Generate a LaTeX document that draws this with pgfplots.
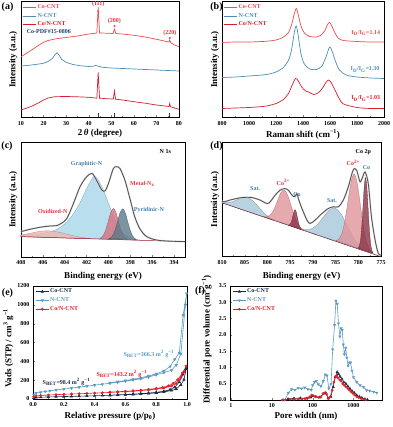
\documentclass[border=0pt]{standalone}
\usepackage{fontspec}
\setmainfont{Liberation Serif}
\usepackage{pgfplots}
\pgfplotsset{compat=1.18}

\definecolor{cored}{HTML}{F04A4A}
\definecolor{nblue}{HTML}{4F8DB5}
\definecolor{conred}{HTML}{D21F2E}
\definecolor{pdfblue}{HTML}{1F3F6B}
\definecolor{navy}{HTML}{1B2E4D}
\definecolor{eblue}{HTML}{5B9BC6}
\definecolor{ered}{HTML}{E41F26}
\definecolor{labblue}{HTML}{3F80AA}
\definecolor{labred}{HTML}{E5303B}
\definecolor{envgray}{HTML}{505050}
\definecolor{oxfill}{HTML}{F2B5B5}
\definecolor{grfill}{HTML}{A8D7EA}
\definecolor{metfill}{HTML}{D7707E}
\definecolor{pyrfill}{HTML}{5A7989}
\definecolor{satfill}{HTML}{A6C7D9}
\definecolor{cotwo}{HTML}{E0939A}
\definecolor{cozero}{HTML}{8A3447}

\tikzset{lab/.style={font=\fontsize{6}{7}\selectfont\bfseries}}

\pgfplotsset{
  panel/.style={
    scale only axis, anchor=south west, clip=false,
    axis line style={line width=0.6pt},
    tick align=inside, tick pos=left,
    major tick length=2pt, minor tick length=1.2pt,
    tick label style={font=\fontsize{6}{7}\selectfont\bfseries},
    label style={font=\fontsize{9}{10}\selectfont\bfseries},
    /pgf/number format/assume math mode=true,
    /pgf/number format/set thousands separator={},
    xlabel style={anchor=center}, ylabel style={anchor=center},
    legend cell align=left,
    legend style={draw=none, fill=none, anchor=north west,
      font=\fontsize{6}{7}\selectfont\bfseries, row sep=1.3pt,
      inner sep=0pt, nodes={inner sep=1pt}},
  },
  lineleg/.style={legend image code/.code={\draw[##1, line width=0.8pt] (0pt,0pt) -- (13pt,0pt);}},
  markleg/.style={legend image code/.code={\draw[mark repeat=2, mark phase=2, ##1] plot coordinates {(0pt,0pt) (6.5pt,0pt) (13pt,0pt)};}},
  comp/.style={fill=#1, draw=#1!75!black, line width=0.3pt, fill opacity=0.8, smooth},
}

\begin{document}
\begin{tikzpicture}
\path[use as bounding box] (0pt,0pt) rectangle (392pt,427pt);

% (a) XRD
\begin{axis}[panel, lineleg, at={(21pt,309.5pt)}, width=158pt, height=116pt,
  xmin=10, xmax=80, ymin=0, ymax=116, xtick={10,20,...,80}, minor x tick num=1, ytick=\empty,
  xlabel={2\,\textit{θ} (degree)}, ylabel={Intensity (a.u.)},
  xlabel style={at={(axis description cs:0.5,-0.138)}},
  ylabel style={at={(axis description cs:-0.05,0.5)}},
  legend style={at={(axis description cs:0.01,0.985)}}]
\addplot[cored, line width=0.7pt] coordinates {
(10,60.8)(12,63.5)(14,66.5)(16,69.5)(18,72.5)(20,75.2)(22,77)(25,78.5)(28,79.5)(30,80)(35,81.5)(40,83.5)
(43.6,84.5)(44.2,110)(44.8,84.5)(48,84.3)(50.8,84)(51.4,88.5)(52,84)(55,83.5)(60,82.2)(65,80.5)
(70,78.2)(75.5,75.5)(75.9,77.5)(76.3,75)(78,72.5)(80,70.8)};
\addlegendentry{\textcolor{cored}{Co-CNT}}
\addplot[nblue, line width=0.7pt] coordinates {
(10,51.5)(14,52.3)(18,53.5)(20,54.2)(22,56)(24,59.2)(25,62.5)(26,64.8)(27,62)(28,58.2)(30,55.2)
(33,53)(36,51.8)(40,51)(42,51.3)(43,52)(44,51.5)(46,50.2)(50,49.5)(55,49)(60,48.5)(65,48)(70,47.5)(75,47)(80,46.5)};
\addlegendentry{\textcolor{nblue}{N-CNT}}
\addplot[conred, line width=0.7pt] coordinates {
(10,7.5)(12,9)(15,11.5)(18,15)(20,17.5)(22,19.5)(25,20.8)(30,21)(35,20.7)(40,20.2)(43.6,19.3)
(44.2,45)(44.8,19.3)(48,18.8)(50.9,18.4)(51.4,26.5)(51.9,18.3)(55,17.5)(60,15.8)(65,14.3)(70,12.5)
(75.6,11)(75.9,14.2)(76.2,10.8)(78,9.5)(80,8.2)};
\addlegendentry{\textcolor{conred}{Co/N-CNT}}
\addplot[ycomb, pdfblue, line width=0.8pt, forget plot] coordinates {(44.2,4)(51.5,4)(75.9,4)};
\addplot[only marks, mark=*, mark size=0.8pt, cored, forget plot] coordinates {(44.2,106)(51.4,91.5)(75.9,79.5)};
\node[lab, text=pdfblue, anchor=west] at (axis description cs:0.015,0.74) {Co-PDF\#15-0806};
\node[lab, text=labred] at (axis cs:44.2,113.5) {(111)};
\node[lab, text=labred] at (axis cs:51.4,96) {(200)};
\node[lab, text=labred] at (axis cs:76,84.5) {(220)};
\end{axis}

% (b) Raman
\begin{axis}[panel, lineleg, at={(222pt,309.5pt)}, width=162pt, height=116pt,
  xmin=800, xmax=2000, ymin=0, ymax=116, xtick={800,1000,...,2000}, minor x tick num=1, ytick=\empty,
  xlabel={Raman shift (cm\textsuperscript{−1})}, ylabel={Intensity (a.u.)},
  xlabel style={at={(axis description cs:0.5,-0.145)}},
  ylabel style={at={(axis description cs:-0.043,0.5)}},
  legend style={at={(axis description cs:0.01,0.985)}}]
\addplot[cored, line width=0.7pt, smooth] coordinates {
(800,75)(900,75.5)(1000,75.5)(1100,76)(1150,76.5)(1200,77.5)(1250,80)(1290,84.5)(1315,92.5)(1335,103.5)
(1350,109)(1365,102.5)(1385,91.5)(1410,84.5)(1450,81)(1500,80.5)(1530,82)(1560,86.5)(1580,92.5)
(1595,95)(1610,92.5)(1630,86.5)(1660,79.5)(1700,77)(1800,76)(1900,75.5)(2000,75.5)};
\addlegendentry{\textcolor{cored}{Co-CNT}}
\addplot[nblue, line width=0.7pt, smooth] coordinates {
(800,40)(900,40.5)(1000,41.5)(1100,42.5)(1150,43.5)(1200,45.5)(1250,49.5)(1290,56.5)(1315,67.5)
(1335,84.5)(1350,91.5)(1365,81.5)(1385,63.5)(1410,53.5)(1450,48.5)(1500,48)(1540,51.5)(1570,60.5)
(1590,68.5)(1600,70.5)(1615,66.5)(1640,56.5)(1670,47.5)(1720,42.5)(1800,40.5)(1900,39.5)(2000,39)};
\addlegendentry{\textcolor{nblue}{N-CNT}}
\addplot[conred, line width=0.7pt, smooth] coordinates {
(800,9)(900,9.5)(1000,10)(1100,11)(1150,12)(1200,14)(1250,17.5)(1290,23.5)(1320,32.5)(1345,39)
(1365,36.5)(1390,30.5)(1420,26.5)(1450,25)(1480,23)(1510,24.5)(1540,28.5)(1570,35)(1590,37.5)
(1610,34.5)(1640,26.5)(1670,18.5)(1700,13.5)(1800,10)(1900,9)(2000,9)};
\addlegendentry{\textcolor{conred}{Co/N-CNT}}
\node[lab, text=cored] at (axis cs:1865,84.5) {I\textsubscript{D}/I\textsubscript{G}=1.14};
\node[lab, text=nblue] at (axis cs:1860,48) {I\textsubscript{D}/I\textsubscript{G}=1.30};
\node[lab, text=conred] at (axis cs:1865,19) {I\textsubscript{D}/I\textsubscript{G}=1.03};
\end{axis}

% (c) N 1s
\begin{axis}[panel, at={(21pt,169.7pt)}, width=164pt, height=115.3pt,
  xmin=393, xmax=408, x dir=reverse, ymin=1, ymax=116.5,
  xtick={394,396,...,408}, minor x tick num=1, ytick=\empty,
  xlabel={Binding energy (eV)}, ylabel={Intensity (a.u.)},
  xlabel style={at={(axis description cs:0.5,-0.167)}},
  ylabel style={at={(axis description cs:-0.047,0.5)}}]
\addplot[comp=grfill] coordinates {
(408,21.7)(408,23.2)(407,23.9)(406,25.0)(405,27.7)(404.5,30.5)(404,34.4)(403.5,40.2)(403,48.0)(402.5,57.9)
(402,69.7)(401.5,79.5)(401.3,82.5)(401,79.4)(400.5,69.2)(400,55.0)(399.5,40.9)(399,29.7)(398.5,23.5)
(398,20.4)(397.5,18.7)(397,18.03)} -- cycle;
\addplot[comp=oxfill] coordinates {
(408,21.7)(408,23.2)(407.5,24.3)(407,25.4)(406.5,26.6)(406,27.3)(405.5,27.5)(405,27)(404.5,26)(404,24.7)
(403.5,23.3)(403,22.1)(402.5,21)(402,20.2)(401.5,19.6)} -- cycle;
\addplot[comp=metfill] coordinates {
(400.8,20.0)(400.55,21.8)(400.3,26.8)(400.05,35.8)(399.8,45.6)(399.55,49.9)(399.3,45.4)(399.05,35.4)
(398.8,26.3)(398.55,21.2)(398.3,19.2)} -- cycle;
\addplot[comp=pyrfill] coordinates {
(399.95,19.7)(399.7,21.5)(399.45,26.6)(399.2,35.5)(398.95,45.3)(398.7,49.6)(398.45,45.1)(398.2,35.1)
(397.95,26.1)(397.7,20.9)(397.45,18.9)} -- cycle;
\addplot[conred!80!black, line width=0.5pt] coordinates {(408,21.7)(393,16.7)};
\addplot[gray!35, line width=1.6pt, smooth] coordinates {
(408,26.7)(407.2,29)(406.3,31)(405.4,32.3)(404.7,32.8)(404.3,35)(403.8,40)(403.2,55)(402.6,71.7)
(402,81.7)(401.5,85)(401.1,78.3)(400.6,68.3)(400.3,67.7)(400,75)(399.55,90)(399.25,91.7)(398.95,90)
(398.5,78.3)(398,58.3)(397.6,41.7)(397.1,29)(396.5,21.7)(395.6,18.3)(394.5,17.2)(393,16.7)};
\addplot[envgray, line width=0.8pt, smooth] coordinates {
(408,26.7)(407.2,29)(406.3,31)(405.4,32.3)(404.7,32.8)(404.3,35)(403.8,40)(403.2,55)(402.6,71.7)
(402,81.7)(401.5,85)(401.1,78.3)(400.6,68.3)(400.3,67.7)(400,75)(399.55,90)(399.25,91.7)(398.95,90)
(398.5,78.3)(398,58.3)(397.6,41.7)(397.1,29)(396.5,21.7)(395.6,18.3)(394.5,17.2)(393,16.7)};
\node[lab] at (axis cs:394.8,106.7) {N 1s};
\node[lab, text=labblue] at (axis cs:402,94) {Graphitic-N};
\node[lab, text=labred] at (axis cs:396.9,75) {Metal-N\textsubscript{x}};
\node[lab, text=labblue] at (axis cs:396.3,48.3) {Pyridinic-N};
\node[lab, text=labred] at (axis cs:405.1,46.7) {Oxidized-N};
\end{axis}

% (d) Co 2p
\begin{axis}[panel, at={(222pt,170.3pt)}, width=159pt, height=114.7pt,
  xmin=775, xmax=810, x dir=reverse, ymin=0, ymax=115,
  xtick={775,780,...,810}, minor x tick num=1, ytick=\empty,
  xlabel={Binding energy (eV)}, ylabel={Intensity (a.u.)},
  xlabel style={at={(axis description cs:0.5,-0.174)}},
  ylabel style={at={(axis description cs:-0.044,0.5)}}]
\addplot[comp=satfill] coordinates {
(810,54.0)(810,54.64)(808.9,54.21)(807.75,55.08)(806.6,57.25)(805.45,59.34)(804.3,59.21)(803.15,55.79)
(802.0,50.15)(800.85,44.44)(799.7,40.01)(798.55,36.96)(798.55,36.34)} -- cycle;
\addplot[comp=cotwo] coordinates {
(800.8,40.19)(800.05,40.14)(799.3,42.09)(798.55,47.38)(797.8,55.8)(797.05,64.02)(796.3,66.87)
(795.55,61.71)(794.8,51.17)(794.05,40.43)(793.3,32.84)(792.55,28.57)(791.8,26.3)} -- cycle;
\addplot[comp=cozero] coordinates {
(795.4,31.68)(795.15,31.88)(794.9,33.15)(794.65,36.16)(794.4,40.85)(794.15,45.44)(793.9,47.16)
(793.65,44.67)(793.4,39.31)(793.15,33.85)(792.9,30.06)(792.65,28.02)(792.4,27.05)} -- cycle;
\addplot[comp=satfill] coordinates {
(792.9,27.99)(791.6,27.06)(790.3,28.07)(789.0,32.32)(787.7,39.61)(786.4,46.71)(785.1,48.58)
(783.8,42.7)(782.5,31.58)(781.2,20.29)(779.9,12.02)(778.6,7.0)(777.3,3.92)} -- cycle;
\addplot[comp=cotwo] coordinates {
(784.95,16.17)(784.275,17.56)(783.6,23.28)(782.925,36.26)(782.25,56.07)(781.575,75.46)(780.9,83.1)
(780.225,73.37)(779.55,51.9)(778.875,30.01)(778.2,14.95)(777.525,7.15)(776.85,3.67)} -- cycle;
\addplot[comp=cozero] coordinates {
(780.05,8.61)(779.775,10.62)(779.5,16.95)(779.225,30.55)(778.95,50.97)(778.675,70.98)(778.4,79.25)
(778.125,70.13)(777.85,49.28)(777.575,28.0)(777.3,13.56)(777.025,6.37)(776.75,3.52)} -- cycle;
\addplot[cozero!80!black, line width=0.5pt] coordinates {(810,54)(775,0)};
\addplot[gray!35, line width=1.6pt, smooth] coordinates {
(810,56)(809.6,55)(807.8,57.3)(805.6,59.3)(803.4,59.3)(801.6,56.7)(800.1,53.3)(799.4,55)(798.3,61.7)
(797.2,66.7)(796.2,68.3)(795.4,66.7)(794.6,61.7)(794,60)(793.5,63.3)(793.2,58.3)(792.4,48.3)(791.3,36.7)
(790.6,33.3)(789.5,36.7)(788,43.3)(786.6,48.3)(785.5,50)(784.4,50)(783.3,56.7)(782.2,70)(781.4,83.3)
(780.9,88.3)(780.3,86)(779.6,75)(778.9,81.7)(778.5,85)(777.8,73.3)(777.1,40)(776.3,16.7)(775.6,3.3)(775,1.7)};
\addplot[envgray, line width=0.8pt, smooth] coordinates {
(810,56)(809.6,55)(807.8,57.3)(805.6,59.3)(803.4,59.3)(801.6,56.7)(800.1,53.3)(799.4,55)(798.3,61.7)
(797.2,66.7)(796.2,68.3)(795.4,66.7)(794.6,61.7)(794,60)(793.5,63.3)(793.2,58.3)(792.4,48.3)(791.3,36.7)
(790.6,33.3)(789.5,36.7)(788,43.3)(786.6,48.3)(785.5,50)(784.4,50)(783.3,56.7)(782.2,70)(781.4,83.3)
(780.9,88.3)(780.3,86)(779.6,75)(778.9,81.7)(778.5,85)(777.8,73.3)(777.1,40)(776.3,16.7)(775.6,3.3)(775,1.7)};
\node[lab] at (axis cs:778.9,105) {Co 2p};
\node[lab, text=labblue] at (axis cs:802.7,68.3) {Sat.};
\node[lab, text=labred] at (axis cs:796.5,74.5) {Co\textsuperscript{2+}};
\node[lab, text=labblue] at (axis cs:793.5,62) {Co};
\node[lab, text=labblue] at (axis cs:785.8,56.7) {Sat.};
\node[lab, text=labred] at (axis cs:781.1,94) {Co\textsuperscript{2+}};
\node[lab, text=labblue] at (axis cs:778.2,89) {Co};
\end{axis}

% (e) N2 isotherms
\begin{axis}[panel, markleg, at={(33pt,28pt)}, width=154pt, height=113pt,
  xmin=0, xmax=1, ymin=0, ymax=1200, xtick={0,0.2,...,1.0}, ytick={0,200,...,1200},
  minor x tick num=1, minor y tick num=1,
  xticklabel style={/pgf/number format/.cd, fixed, fixed zerofill, precision=1},
  xlabel={Relative pressure (p/p\textsubscript{0})}, ylabel={Vads (STP) / cm\textsuperscript{3} g\textsuperscript{−1}},
  xlabel style={at={(axis description cs:0.5,-0.15)}},
  ylabel style={at={(axis description cs:-0.16,0.45)}},
  legend style={at={(axis description cs:0.015,0.985)}}]
\addplot[navy, line width=0.6pt, mark=triangle*, mark size=1.3pt] coordinates {
(0.005,12)(0.02,16)(0.05,19)(0.1,22)(0.15,24)(0.2,26)(0.25,28)(0.3,30)(0.35,32)(0.4,34)(0.45,37)(0.5,39)
(0.55,42)(0.6,45)(0.65,49)(0.7,53)(0.75,58)(0.8,65)(0.85,75)(0.9,90)(0.93,108)(0.96,150)(0.98,205)(0.995,320)
(0.975,260)(0.95,180)(0.92,125)(0.89,100)(0.85,82)(0.8,71)(0.75,63)(0.7,57)(0.65,52)(0.6,48)(0.55,44)(0.5,41)};
\addlegendentry{\textcolor{navy}{Co-CNT}}
\addplot[eblue, line width=0.6pt, mark=triangle*, mark size=1.3pt, mark options={rotate=180}] coordinates {
(0.005,45)(0.02,62)(0.05,72)(0.08,80)(0.11,87)(0.15,96)(0.2,106)(0.25,116)(0.3,126)(0.35,136)(0.4,147)
(0.45,157)(0.5,167)(0.55,178)(0.6,189)(0.65,201)(0.7,214)(0.75,233)(0.8,256)(0.85,280)(0.9,305)(0.93,360)
(0.96,480)(0.99,1000)(0.998,1120)(0.975,890)(0.95,490)(0.92,420)(0.89,345)(0.85,298)(0.8,268)(0.75,245)
(0.7,226)(0.65,210)(0.6,196)(0.55,184)(0.5,172)};
\addlegendentry{\textcolor{eblue}{N-CNT}}
\addplot[ered, line width=0.6pt, mark=*, mark size=1.1pt] coordinates {
(0.005,25)(0.02,32)(0.05,37)(0.1,42)(0.15,46)(0.2,50)(0.25,53)(0.3,56)(0.35,59)(0.4,63)(0.45,66)(0.5,70)
(0.55,74)(0.6,78)(0.65,83)(0.7,89)(0.75,96)(0.8,105)(0.85,117)(0.9,138)(0.93,165)(0.96,230)(0.98,290)(0.995,350)
(0.97,275)(0.94,205)(0.91,165)(0.88,140)(0.84,122)(0.8,112)(0.75,102)(0.7,94)(0.65,87)(0.6,82)(0.55,77)(0.5,73)};
\addlegendentry{\textcolor{ered}{Co/N-CNT}}
\node[lab, text=eblue, anchor=west] at (axis cs:0.565,477) {S\textsubscript{BET}=366.3 m\textsuperscript{2} g\textsuperscript{−1}};
\node[lab, text=ered, anchor=west] at (axis cs:0.39,268) {S\textsubscript{BET}=143.2 m\textsuperscript{2} g\textsuperscript{−1}};
\node[lab, text=navy, anchor=west] at (axis cs:0.04,180) {S\textsubscript{BET}=98.4 m\textsuperscript{2} g\textsuperscript{−1}};
\end{axis}

% (f) pore size distribution
\begin{axis}[panel, markleg, at={(230pt,27pt)}, width=152pt, height=114pt,
  xmode=log, log basis x=10, xmin=0.95, xmax=5000, ymin=0, ymax=3.5,
  xtick={1,10,100,1000}, xticklabels={1,10,100,1000}, ytick={0,0.5,...,3.5},
  yticklabel style={/pgf/number format/.cd, fixed, fixed zerofill, precision=1},
  xlabel={Pore width (nm)}, ylabel={Differential pore volume (cm\textsuperscript{3}g\textsuperscript{−1})},
  xlabel style={at={(axis description cs:0.5,-0.14)}},
  ylabel style={at={(axis description cs:-0.153,0.53)}},
  legend style={at={(axis description cs:0.015,0.985)}}]
\addplot[navy, line width=0.6pt, mark=triangle*, mark size=1.2pt] coordinates {
(19,0)(25,0.03)(35,0.05)(50,0.06)(70,0.05)(90,0.08)(100,0.12)(120,0.1)(150,0.08)(190,0.2)(210,0.22)
(240,0.05)(280,0.1)(320,0.4)(360,0.7)(400,0.86)(430,0.8)(470,0.72)(520,0.65)(580,0.55)(650,0.5)(730,0.42)
(820,0.35)(920,0.28)(1050,0.22)(1200,0.15)(1400,0.1)(1600,0.07)(1900,0.03)(2200,0.01)};
\addlegendentry{\textcolor{navy}{Co-CNT}}
\addplot[eblue, line width=0.6pt, mark=triangle*, mark size=1.2pt, mark options={rotate=180}] coordinates {
(21,0)(25.5,0.22)(30.6,0.33)(36.8,0.31)(44.3,0.37)(53.3,0.35)(64.1,0.38)(77.2,0.33)(92.9,0.31)(100,0.45)
(111.7,0.55)(122.5,0.58)(138,0.48)(160,0.42)(183,0.58)(205,0.78)(225,0.75)(250,0.35)(283,0.5)(310,1.55)
(345,2.3)(372,3.05)(400,2.95)(430,2.35)(465,1.95)(500,2.2)(530,2.15)(565,1.7)(600,1.4)(645,1.6)(690,1.3)
(740,1.05)(800,1.15)(850,1.15)(920,0.9)(1000,0.7)(1200,0.55)(1450,0.45)(1750,0.4)(2100,0.3)(2500,0.28)
(3100,0.25)(3700,0.22)};
\addlegendentry{\textcolor{eblue}{N-CNT}}
\addplot[ered, line width=0.6pt, mark=*, mark size=1.0pt] coordinates {
(18,0)(22,0.01)(28,0.02)(35,0.02)(45,0.03)(55,0.03)(65,0.04)(75,0.05)(85,0.1)(95,0.15)(105,0.13)(120,0.1)
(140,0.08)(160,0.1)(180,0.2)(200,0.22)(220,0.18)(245,0.05)(270,0.1)(300,0.3)(330,0.55)(360,0.72)(390,0.75)
(420,0.68)(460,0.62)(500,0.58)(550,0.5)(600,0.45)(660,0.4)(730,0.35)(800,0.3)(880,0.25)(970,0.2)
(1070,0.15)(1200,0.1)(1350,0.07)(1550,0.04)(1800,0.02)(2000,0.01)};
\addlegendentry{\textcolor{ered}{Co/N-CNT}}
\end{axis}

\node[font=\fontsize{10}{11}\selectfont\bfseries] at (7.5pt,419.5pt) {(a)};
\node[font=\fontsize{10}{11}\selectfont\bfseries] at (216.5pt,419.5pt) {(b)};
\node[font=\fontsize{10}{11}\selectfont\bfseries] at (7pt,281pt) {(c)};
\node[font=\fontsize{10}{11}\selectfont\bfseries] at (216.5pt,281pt) {(d)};
\node[font=\fontsize{10}{11}\selectfont\bfseries] at (7.5pt,134pt) {(e)};
\node[font=\fontsize{10}{11}\selectfont\bfseries] at (200pt,136pt) {(f)};
\end{tikzpicture}
\end{document}
